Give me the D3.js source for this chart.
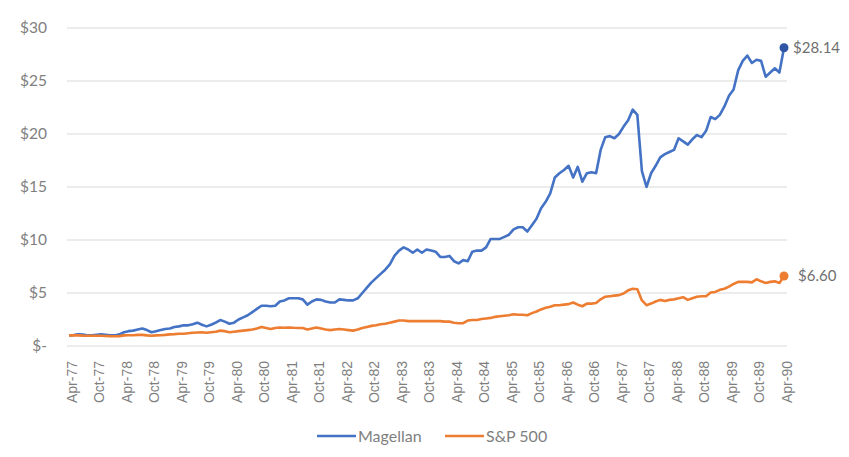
<!DOCTYPE html>
<html>
<head>
<meta charset="utf-8">
<script src="https://cdn.jsdelivr.net/npm/d3@7"></script>
<style>
  body { margin: 0; background: white; }
  svg { display: block; }
</style>
</head>
<body>
<div id="chart"></div>
<script>
// Growth of $1, Apr-77 .. Apr-90, monthly
const startMonth = new Date(1977, 3, 1);
const endMonth = new Date(1990, 3, 1);

const magellan = [
  // Apr-77 .. Mar-78
  1.00, 1.03, 1.10, 1.08, 1.02, 1.00, 1.05, 1.10, 1.05, 1.00, 1.00, 1.10,
  // Apr-78 .. Mar-79
  1.30, 1.40, 1.45, 1.55, 1.65, 1.50, 1.30, 1.40, 1.50, 1.60, 1.65, 1.80,
  // Apr-79 .. Mar-80
  1.85, 1.95, 1.95, 2.05, 2.20, 2.00, 1.85, 2.00, 2.20, 2.45, 2.30, 2.10,
  // Apr-80 .. Mar-81
  2.20, 2.50, 2.70, 2.90, 3.20, 3.50, 3.80, 3.80, 3.75, 3.80, 4.20, 4.30,
  // Apr-81 .. Mar-82
  4.50, 4.50, 4.50, 4.40, 3.90, 4.20, 4.40, 4.35, 4.20, 4.10, 4.10, 4.40,
  // Apr-82 .. Mar-83
  4.35, 4.30, 4.30, 4.50, 5.00, 5.50, 6.00, 6.40, 6.80, 7.20, 7.70, 8.50,
  // Apr-83 .. Mar-84
  9.00, 9.30, 9.10, 8.80, 9.10, 8.80, 9.10, 9.00, 8.90, 8.40, 8.40, 8.50,
  // Apr-84 .. Mar-85
  8.00, 7.80, 8.10, 8.00, 8.90, 9.00, 9.00, 9.30, 10.1, 10.1, 10.1, 10.3,
  // Apr-85 .. Mar-86
  10.5, 11.0, 11.2, 11.2, 10.8, 11.4, 12.0, 13.0, 13.6, 14.4, 15.9, 16.3,
  // Apr-86 .. Mar-87
  16.6, 17.0, 15.9, 16.9, 15.5, 16.3, 16.4, 16.3, 18.5, 19.7, 19.8, 19.6,
  // Apr-87 .. Mar-88
  20.0, 20.7, 21.3, 22.3, 21.8, 16.5, 15.0, 16.3, 17.0, 17.8, 18.1, 18.3,
  // Apr-88 .. Mar-89
  18.5, 19.6, 19.3, 19.0, 19.5, 19.9, 19.7, 20.3, 21.6, 21.4, 21.8, 22.6,
  // Apr-89 .. Mar-90
  23.6, 24.2, 26.0, 26.9, 27.4, 26.7, 27.0, 26.9, 25.4, 25.8, 26.2, 25.8,
  // Apr-90
  28.14
];

const sp500 = [
  1.00, 1.00, 1.00, 0.98, 0.97, 0.97, 0.96, 0.96, 0.95, 0.93, 0.92, 0.93,
  1.00, 1.02, 1.02, 1.05, 1.05, 1.00, 0.97, 1.00, 1.02, 1.05, 1.10, 1.12,
  1.15, 1.15, 1.20, 1.25, 1.28, 1.30, 1.25, 1.30, 1.35, 1.45, 1.40, 1.30,
  1.35, 1.40, 1.45, 1.50, 1.55, 1.65, 1.80, 1.70, 1.60, 1.70, 1.75, 1.72,
  1.75, 1.72, 1.70, 1.70, 1.55, 1.65, 1.75, 1.65, 1.55, 1.50, 1.55, 1.60,
  1.55, 1.50, 1.45, 1.55, 1.70, 1.80, 1.90, 1.95, 2.05, 2.10, 2.20, 2.30,
  2.40, 2.40, 2.35, 2.35, 2.35, 2.35, 2.35, 2.35, 2.35, 2.35, 2.30, 2.30,
  2.20, 2.15, 2.15, 2.40, 2.45, 2.45, 2.55, 2.60, 2.65, 2.75, 2.80, 2.85,
  2.90, 3.00, 2.95, 2.95, 2.90, 3.10, 3.25, 3.45, 3.60, 3.70, 3.85, 3.85,
  3.90, 3.95, 4.10, 3.90, 3.75, 4.00, 4.00, 4.05, 4.40, 4.65, 4.70, 4.75,
  4.80, 4.95, 5.25, 5.40, 5.35, 4.30, 3.85, 4.00, 4.20, 4.35, 4.25, 4.35,
  4.40, 4.50, 4.60, 4.35, 4.50, 4.65, 4.70, 4.70, 5.05, 5.10, 5.30, 5.40,
  5.60, 5.85, 6.05, 6.05, 6.05, 6.00, 6.30, 6.10, 5.95, 6.05, 6.10, 5.95,
  6.60
];

const yTicks = [0, 5, 10, 15, 20, 25, 30];
const xTickLabels = [
  "Apr-77", "Oct-77", "Apr-78", "Oct-78", "Apr-79", "Oct-79", "Apr-80",
  "Oct-80", "Apr-81", "Oct-81", "Apr-82", "Oct-82", "Apr-83", "Oct-83",
  "Apr-84", "Oct-84", "Apr-85", "Oct-85", "Apr-86", "Oct-86", "Apr-87",
  "Oct-87", "Apr-88", "Oct-88", "Apr-89", "Oct-89", "Apr-90"
];
const seriesNames = ["Magellan", "S&P 500"];
const seriesColors = ["#4472c4", "#ed7d31"];
const dotColors = ["#2f55a4", "#ed7d31"];

const width = 849, height = 457;
const fmtMonth = d3.timeFormat("%b-%y");
const months = d3.timeMonth.range(startMonth, d3.timeMonth.offset(endMonth, 1));

const svg = d3.select("#chart").append("svg")
    .attr("width", width)
    .attr("height", height);

const x = d3.scalePoint()
    .domain(months.map(fmtMonth))
    .range([69, 784]);

const y = d3.scaleLinear()
    .domain([0, 30])
    .range([346, 28]);

const gridColor = "#d9d9d9";
const textColor = "#7f7f7f";

// gridlines
svg.append("g")
  .selectAll("line")
  .data(yTicks)
  .join("line")
    .attr("x1", 67)
    .attr("x2", 787)
    .attr("y1", d => y(d))
    .attr("y2", d => y(d))
    .attr("stroke", gridColor)
    .attr("stroke-width", 1.2);

// y labels
svg.append("g")
    .attr("font-family", "Lato, 'Open Sans', sans-serif")
    .attr("font-size", 15.5)
    .attr("fill", textColor)
    .attr("text-anchor", "end")
  .selectAll("text")
  .data(yTicks)
  .join("text")
    .attr("x", 47)
    .attr("y", d => y(d))
    .attr("dy", "0.35em")
    .text(d => d === 0 ? "$-" : "$" + d);

// x labels
svg.append("g")
    .attr("font-family", "'Liberation Sans', Arial, sans-serif")
    .attr("font-size", 14)
    .attr("fill", textColor)
    .attr("text-anchor", "end")
  .selectAll("text")
  .data(xTickLabels)
  .join("text")
    .attr("transform", d => `translate(${x(d) + 3},361) rotate(-90)`)
    .attr("dy", "0.35em")
    .text(d => d);

// lines
const line = d3.line()
    .x((d, i) => x(fmtMonth(months[i])))
    .y(d => y(d));

[magellan, sp500].forEach((values, k) => {
  svg.append("path")
      .datum(values)
      .attr("fill", "none")
      .attr("stroke", seriesColors[k])
      .attr("stroke-width", 2.6)
      .attr("stroke-linejoin", "round")
      .attr("d", line);

  const last = values.length - 1;
  const lx = x(fmtMonth(months[last]));
  const ly = y(values[last]);
  svg.append("circle")
      .attr("cx", lx)
      .attr("cy", ly)
      .attr("r", 4.5)
      .attr("fill", dotColors[k]);

  svg.append("text")
      .attr("x", lx + (k === 0 ? 9 : 14))
      .attr("y", ly)
      .attr("dy", "0.35em")
      .attr("font-family", "Lato, 'Open Sans', sans-serif")
      .attr("font-size", 15)
      .attr("fill", "#6f6f6f")
      .text("$" + values[last].toFixed(2));
});

// legend
const legend = svg.append("g")
    .attr("font-family", "Lato, 'Open Sans', sans-serif")
    .attr("font-size", 16)
    .attr("fill", textColor);
const legendX = [317, 445];
seriesNames.forEach((name, k) => {
  legend.append("line")
      .attr("x1", legendX[k])
      .attr("x2", legendX[k] + 39)
      .attr("y1", 436)
      .attr("y2", 436)
      .attr("stroke", seriesColors[k])
      .attr("stroke-width", 2.6);
  legend.append("text")
      .attr("x", legendX[k] + 41)
      .attr("y", 436)
      .attr("dy", "0.35em")
      .text(name);
});
</script>
</body>
</html>
